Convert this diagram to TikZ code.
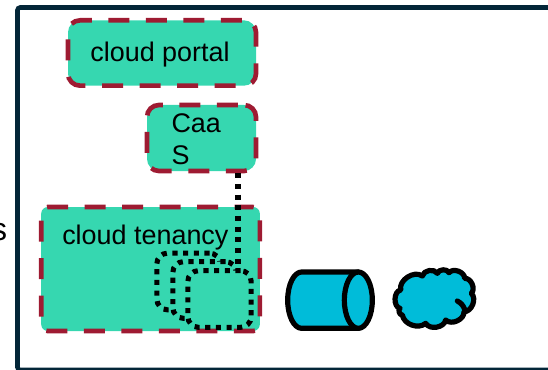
\documentclass[tikz,border=0pt]{standalone}
\usepackage{fontspec}
\setmainfont{Liberation Sans}
\definecolor{framedark}{RGB}{3, 38, 56}
\definecolor{boxgreen}{RGB}{54, 215, 176}
\definecolor{dashred}{RGB}{158, 27, 50}
\definecolor{storecyan}{RGB}{0, 188, 217}
\usetikzlibrary{positioning, calc}
\tikzset{
  dashbox/.style={draw=dashred, fill=boxgreen, line width=3.5pt, rounded corners=9pt, inner sep=0pt, font=\fontsize{20.2}{24}\selectfont},
  dotbox/.style={draw=black, fill=boxgreen, line width=3.8pt, rounded corners=8pt, dash pattern=on 3.8pt off 4.2pt, minimum width=47.5pt, minimum height=42.5pt, inner sep=0pt},
  dotline/.style={draw=black, line width=3.8pt, dash pattern=on 3.8pt off 4.2pt},
  storeshape/.style={draw=black, fill=storecyan, line width=3.9pt, line join=round, line cap=round},
}
\begin{document}
\begin{tikzpicture}[x=0.75pt, y=-0.75pt]
    \useasboundingbox (0,0) rectangle (548,370);

    % Outer frame
    \draw[framedark, line width=3.4pt, rounded corners=2pt] (17.5,7.5) rectangle (570,370);
    \node[anchor=base east, inner sep=0pt, font=\fontsize{24}{28}\selectfont] (cutlabel) at (7.5,240) {s};

    % Boxes
    \node[dashbox, dash pattern=on 15.75pt off 12.4pt, dash phase=26.6pt, minimum width=141pt, minimum height=49pt] (portal) at (162,53) {\hspace*{-3pt}\raisebox{-6.75pt}[0pt][0pt]{cloud portal}};
    \node[dashbox, dash pattern=on 15.75pt off 12.4pt, dash phase=23.6pt, minimum width=81.75pt, minimum height=49.5pt, align=left, text width=45pt, inner xsep=16.8pt] (caas) at (201.5,138) {\rule{0pt}{16pt}Caa\\S};
    \node[dashbox, dash pattern=on 15.75pt off 12.4pt, dash phase=1.9pt, rounded corners=5pt, minimum width=164pt, minimum height=93pt] (tenancy) at (150.5,269) {};
    \node[anchor=base west, inner sep=0pt, font=\fontsize{20.2}{24}\selectfont] (tenancytext) at (62,244.5) {cloud tenancy};

    % Connector
    \coordinate (drop) at (238,268);
    \draw[dotline] (caas.south -| drop) -- (drop);

    % Stacked instances
    \foreach \cx/\cy/\name in {188.5/281.5/insta, 204.5/290/instb, 219.5/299/instc}
        \node[dotbox] (\name) at (\cx,\cy) {};

    % Volume and network
    \begin{scope}[shift={(274,240)}, x=0.25pt, y=-0.25pt]
        \draw[storeshape] (253,96) -- (83,96) arc[start angle=-90, end angle=-270, x radius=42, y radius=84.5] -- (253,265);
        \draw[storeshape] (253,180.5) ellipse[x radius=42, y radius=84.5];
        \draw[storeshape] (380,150) to[bend left=70] (445,108) to[bend left=70] (490,100)
            to[bend left=70] (525,98) to[bend left=70] (572,115) to[bend left=70] (592,160)
            to[bend left=70] (570,215) to[bend left=70] (515,240) to[bend left=70] (455,250)
            to[bend left=60] (385,225) to[bend left=80] (378,205) to[bend left=80] cycle;
        \draw[storeshape, fill=none] (550,183) to[bend left=20] (572,208);
    \end{scope}
\end{tikzpicture}
\end{document}
